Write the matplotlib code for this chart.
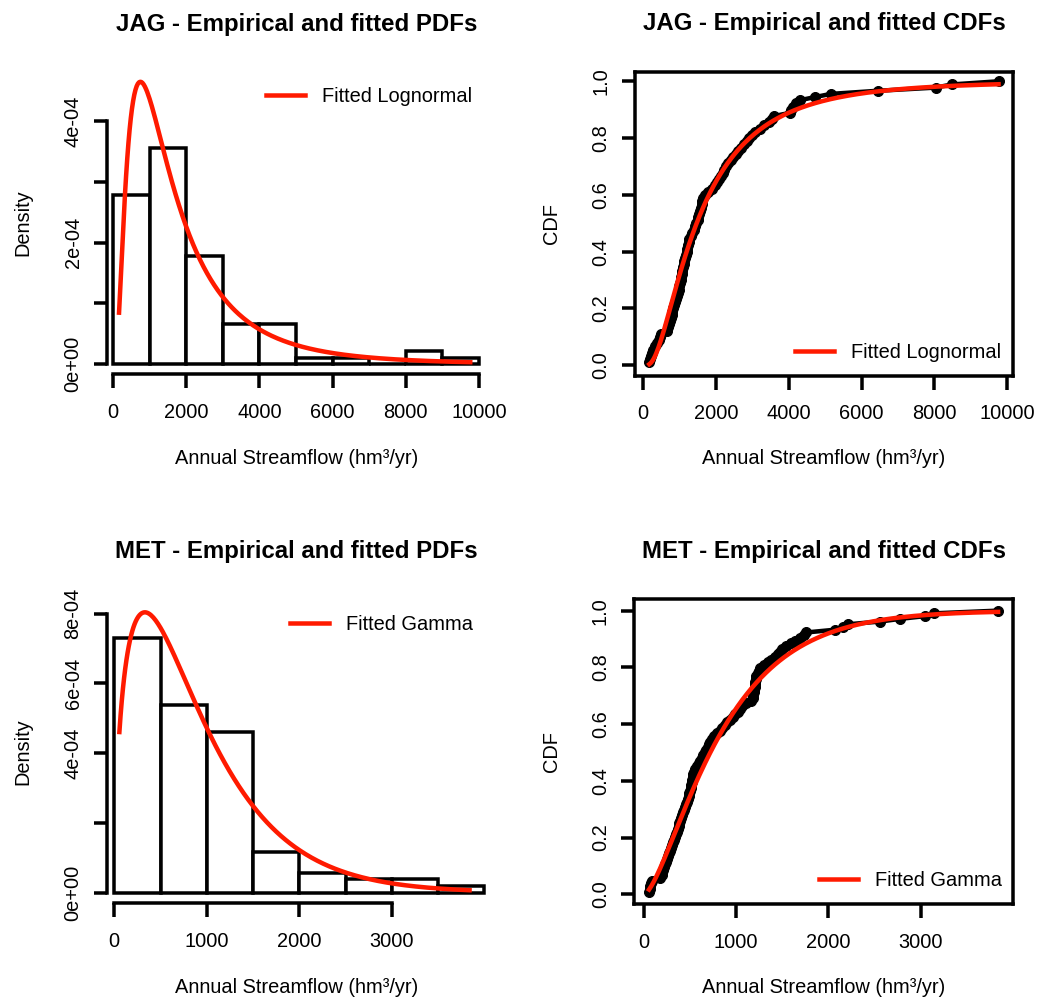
import math
import numpy as np
import matplotlib
matplotlib.use('Agg')
import matplotlib.pyplot as plt

plt.rcParams['font.family'] = ['Liberation Sans', 'DejaVu Sans']

# JAG - annual streamflow (hm3/yr), sorted
jag_flow = [165, 180, 205, 240, 280, 330, 380, 430, 470, 500,
            640, 680, 700, 725, 750, 775, 800, 825, 850, 875,
            900, 925, 950, 970, 990,
            1010, 1025, 1040, 1055, 1075, 1090, 1110, 1130, 1150, 1170,
            1190, 1210, 1230, 1245, 1262, 1300, 1340, 1380, 1420, 1460, 1490,
            1510, 1530, 1555, 1580, 1600, 1620, 1645, 1700, 1780, 1880, 1960,
            2030, 2080, 2130, 2180, 2230, 2280, 2340, 2400, 2470, 2540,
            2600, 2680, 2760, 2840, 2910, 2980,
            3080, 3200, 3320, 3450, 3530, 3600,
            4030, 4060, 4100, 4200, 4300, 4720,
            5150, 6460, 8030, 8480, 9760]

# MET - annual streamflow (hm3/yr), sorted
met_flow = [55, 62, 68, 75, 82, 178, 190, 200, 210, 220,
            232, 243, 255, 265, 275, 285, 296, 305, 315, 325,
            335, 345, 355, 365, 375, 385, 395, 405, 415, 425,
            435, 445, 455, 465, 475, 485, 492, 498,
            505, 512, 518, 524, 530, 536, 545, 555,
            575, 592, 610, 628, 645, 660, 676, 692, 706, 720, 734,
            760, 790, 820, 850, 880, 905, 930, 960, 990,
            1020, 1045, 1065, 1110, 1160, 1180, 1185, 1190, 1195, 1200,
            1203, 1206, 1210, 1215, 1235, 1250, 1262, 1300, 1340, 1380,
            1420, 1455, 1480, 1495,
            1540, 1590, 1640, 1690, 1730, 1760,
            2070, 2160, 2210, 2560, 2780, 3050, 3140, 3840]

# fitted distribution parameters
jag_meanlog = 7.29
jag_sdlog = 0.82
met_shape = 1.58
met_scale = 570.0

jag_bins = np.arange(0, 10001, 1000)
met_bins = np.arange(0, 4001, 500)

jag_xticks = [0, 2000, 4000, 6000, 8000, 10000]
met_xticks = [0, 1000, 2000, 3000]
jag_dens_ticks = [0, 1e-4, 2e-4, 3e-4, 4e-4]
jag_dens_labels = ['0e+00', '', '2e-04', '', '4e-04']
met_dens_ticks = [0, 2e-4, 4e-4, 6e-4, 8e-4]
met_dens_labels = ['0e+00', '', '4e-04', '6e-04', '8e-04']
cdf_ticks = [0, 0.2, 0.4, 0.6, 0.8, 1.0]
cdf_labels = ['0.0', '0.2', '0.4', '0.6', '0.8', '1.0']

xlab = 'Annual Streamflow (hm³/yr)'


def lnorm_pdf(x, m, s):
    return np.exp(-(np.log(x) - m) ** 2 / (2 * s * s)) / (x * s * np.sqrt(2 * np.pi))


def lnorm_cdf(x, m, s):
    erf = np.vectorize(math.erf)
    return 0.5 * (1 + erf((np.log(x) - m) / (s * np.sqrt(2))))


def gamma_pdf(x, k, th):
    return x ** (k - 1) * np.exp(-x / th) / (math.gamma(k) * th ** k)


def gamma_cdf(x, k, th):
    z = np.asarray(x) / th
    term = np.ones_like(z) / k
    total = term.copy()
    for n in range(1, 200):
        term = term * z / (k + n)
        total += term
    return total * z ** k * np.exp(-z) / math.gamma(k)


W, H = 1037, 998
fig = plt.figure(figsize=(W / 72, H / 72), dpi=72)


def panel(l, t, r, b):
    return fig.add_axes([l / W, 1 - b / H, (r - l) / W, (b - t) / H])


def style(ax, title, ylabel, xlab_y, ylab_x, yt, ylabs):
    ax.set_title(title, fontsize=24, fontweight='bold', pad=41.5)
    ax.set_xlabel(xlab, fontsize=20, va='baseline')
    ax.xaxis.set_label_coords(0.5, xlab_y)
    ax.set_ylabel(ylabel, fontsize=20, va='baseline')
    ax.yaxis.set_label_coords(ylab_x, 0.5)
    ax.tick_params(direction='out', length=13.5, width=3.5, labelsize=20)
    ax.tick_params(axis='x', pad=15)
    ax.tick_params(axis='y', pad=11)
    ax.set_yticks(yt)
    ax.set_yticklabels(ylabs, rotation=90, va='center', ha='right',
                       rotation_mode='default')
    for s in ax.spines.values():
        s.set_linewidth(3.5)


def hist_panel(ax, data, bins, fit, label, xt, xmax_axis, ymax_axis):
    ax.hist(data, bins=bins, density=True, facecolor='white',
            edgecolor='black', linewidth=3.5)
    xs = np.linspace(min(data), max(data), 300)
    ax.plot(xs, fit(xs), color='#ff1a00', lw=4.5, label=label)
    ax.spines['top'].set_visible(False)
    ax.spines['right'].set_visible(False)
    ax.spines['left'].set_bounds(0, ymax_axis)
    ax.spines['bottom'].set_bounds(0, xmax_axis)
    ax.set_xticks(xt)


def cdf_panel(ax, data, fit, label, xt):
    xs = np.sort(data)
    ys = np.arange(1, len(xs) + 1) / len(xs)
    ax.plot(xs, ys, '-o', color='black', lw=4.5, ms=10)
    cx = np.linspace(min(data), max(data), 300)
    ax.plot(cx, fit(cx), color='#ff1a00', lw=4.5, label=label)
    ax.set_xticks(xt)


def legend(ax, x0, y0):
    ax.legend(loc='center left', bbox_to_anchor=(x0 / W, 1 - y0 / H),
              bbox_transform=fig.transFigure, frameon=False, fontsize=20,
              borderpad=0, borderaxespad=0, handlelength=1.95,
              handletextpad=0.85)


# JAG PDF
ax1 = panel(107, 72, 486, 374.3)
hist_panel(ax1, jag_flow, jag_bins,
           lambda x: lnorm_pdf(x, jag_meanlog, jag_sdlog),
           'Fitted Lognormal', jag_xticks, 10000, 4e-4)
ax1.set_xlim(-164, 10191)
ax1.set_ylim(-1.645e-5, 4.807e-4)
style(ax1, 'JAG - Empirical and fitted PDFs', 'Density', -0.2977, -0.2077,
      jag_dens_ticks, jag_dens_labels)
legend(ax1, 266, 96)

# JAG CDF
ax2 = panel(635, 72, 1013, 376)
cdf_panel(ax2, jag_flow, lambda x: lnorm_cdf(x, jag_meanlog, jag_sdlog),
          'Fitted Lognormal', jag_xticks)
ax2.set_xlim(-228, 10157)
ax2.set_ylim(-0.0377, 1.0327)
style(ax2, 'JAG - Empirical and fitted CDFs', 'CDF', -0.2905, -0.2056,
      cdf_ticks, cdf_labels)
legend(ax2, 795, 352)

# MET PDF
ax3 = panel(107, 599.3, 486, 903.3)
hist_panel(ax3, met_flow, met_bins,
           lambda x: gamma_pdf(x, met_shape, met_scale),
           'Fitted Gamma', met_xticks, 3000, 8e-4)
ax3.set_xlim(-79, 4018)
ax3.set_ylim(-3.04e-5, 8.407e-4)
style(ax3, 'MET - Empirical and fitted PDFs', 'Density', -0.296, -0.2077,
      met_dens_ticks, met_dens_labels)
legend(ax3, 290, 624.3)

# MET CDF
ax4 = panel(634.3, 599.3, 1013.3, 904.3)
cdf_panel(ax4, met_flow, lambda x: gamma_cdf(x, met_shape, met_scale),
          'Fitted Gamma', met_xticks)
ax4.set_xlim(-105, 4005)
ax4.set_ylim(-0.0353, 1.040)
style(ax4, 'MET - Empirical and fitted CDFs', 'CDF', -0.2918, -0.2032,
      cdf_ticks, cdf_labels)
legend(ax4, 819, 880.7)

fig.savefig('out.png', dpi=72, facecolor='white')
